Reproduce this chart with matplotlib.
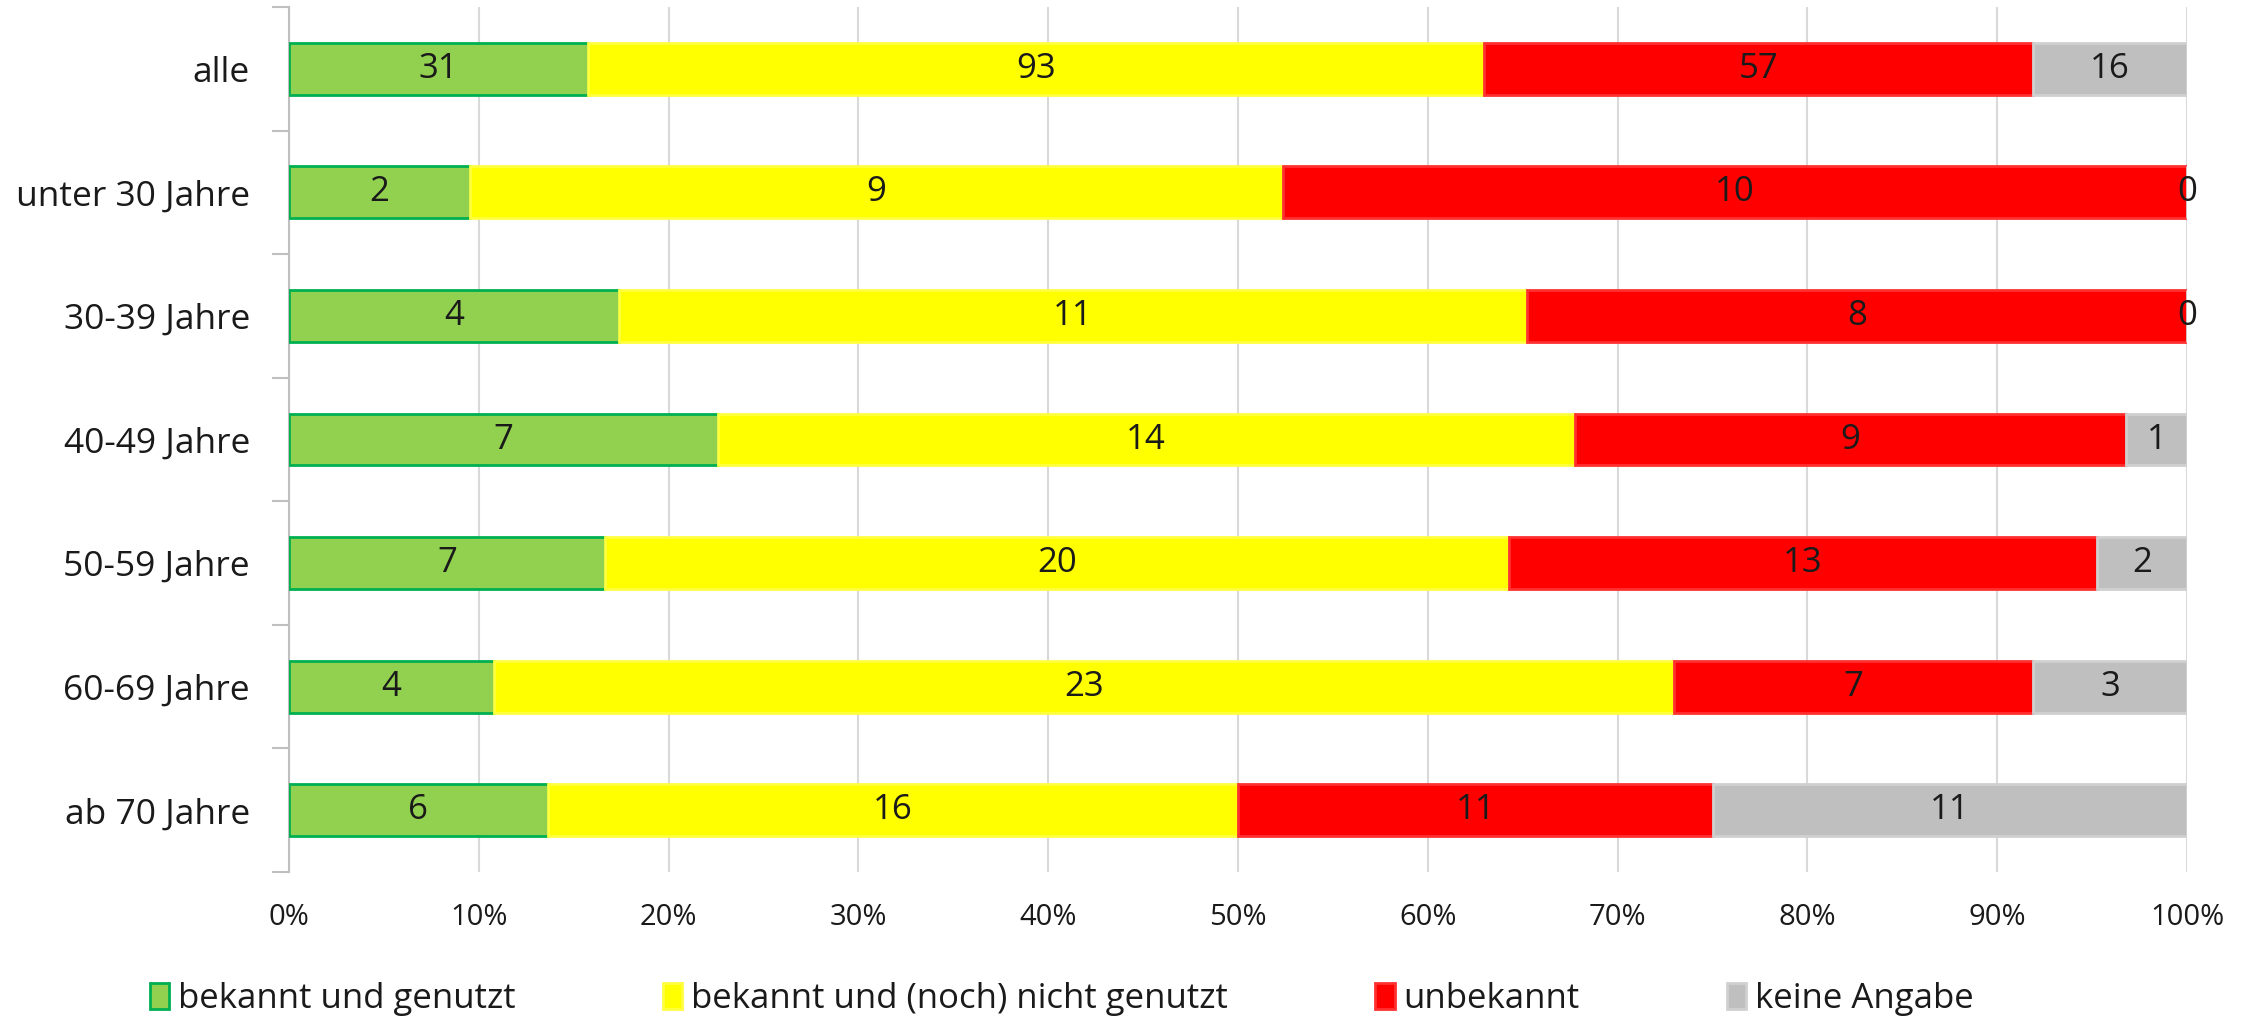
import numpy as np
import matplotlib.pyplot as plt
from matplotlib.ticker import FixedLocator, PercentFormatter

plt.rcParams['font.family'] = ['Open Sans', 'DejaVu Sans']

categories = ['alle', 'unter 30 Jahre', '30-39 Jahre', '40-49 Jahre',
              '50-59 Jahre', '60-69 Jahre', 'ab 70 Jahre']
series = ['bekannt und genutzt', 'bekannt und (noch) nicht genutzt',
          'unbekannt', 'keine Angabe']
genutzt = [31, 2, 4, 7, 7, 4, 6]
nicht_genutzt = [93, 9, 11, 14, 20, 23, 16]
unbekannt = [57, 10, 8, 9, 13, 7, 11]
keine_angabe = [16, 0, 0, 1, 2, 3, 11]

colors = ['#92D050', '#FFFF00', '#FF0000', '#BFBFBF']
edges = ['#00B050', '#FFFF40', '#FF3030', '#D0D0D0']

values = np.array([genutzt, nicht_genutzt, unbekannt, keine_angabe], dtype=float)
shares = values / values.sum(axis=0) * 100

fig = plt.figure(figsize=(22.51, 10.21), dpi=100)
ax = fig.add_axes([289 / 2251, 1 - 872 / 1021, (2187 - 289) / 2251, (872 - 7) / 1021])

y = np.arange(len(categories))
left = np.zeros(len(categories))
for i, name in enumerate(series):
    ax.barh(y, shares[i], left=left, height=0.42, color=colors[i],
            edgecolor=edges[i], linewidth=2, label=name, zorder=3)
    for j in range(len(categories)):
        ax.text(left[j] + shares[i][j] / 2, y[j], f'{int(values[i][j])}',
                ha='center', va='center', fontsize=25, color='#1a1a1a', zorder=4)
    left += shares[i]

ax.set_ylim(len(categories) - 0.5, -0.5)
ax.set_xlim(0, 100)
ax.set_yticks(y)
ax.set_yticklabels(categories, fontsize=25.5, color='#1a1a1a')
ax.yaxis.set_minor_locator(FixedLocator(np.arange(-0.5, len(categories), 1)))
ax.tick_params(axis='y', which='major', length=0, pad=28)
ax.tick_params(axis='y', which='minor', length=12, color='#BFBFBF', width=1.5)
ax.set_xticks(np.arange(0, 101, 10))
ax.xaxis.set_major_formatter(PercentFormatter(decimals=0))
ax.tick_params(axis='x', length=0, labelsize=21, pad=22, labelcolor='#1a1a1a')
ax.grid(axis='x', color='#D9D9D9', linewidth=1.5, zorder=0)
for s in ['top', 'right', 'bottom']:
    ax.spines[s].set_visible(False)
ax.spines['left'].set_color('#BFBFBF')
ax.spines['left'].set_linewidth(1.5)

fig.legend(loc='lower left', bbox_to_anchor=(119 / 2251, -0.026), ncol=4,
           frameon=False, fontsize=25, handlelength=0.55, handleheight=0.75,
           handletextpad=0.25, columnspacing=4.25, labelcolor='#1a1a1a')

fig.savefig('out.png', dpi=100)
